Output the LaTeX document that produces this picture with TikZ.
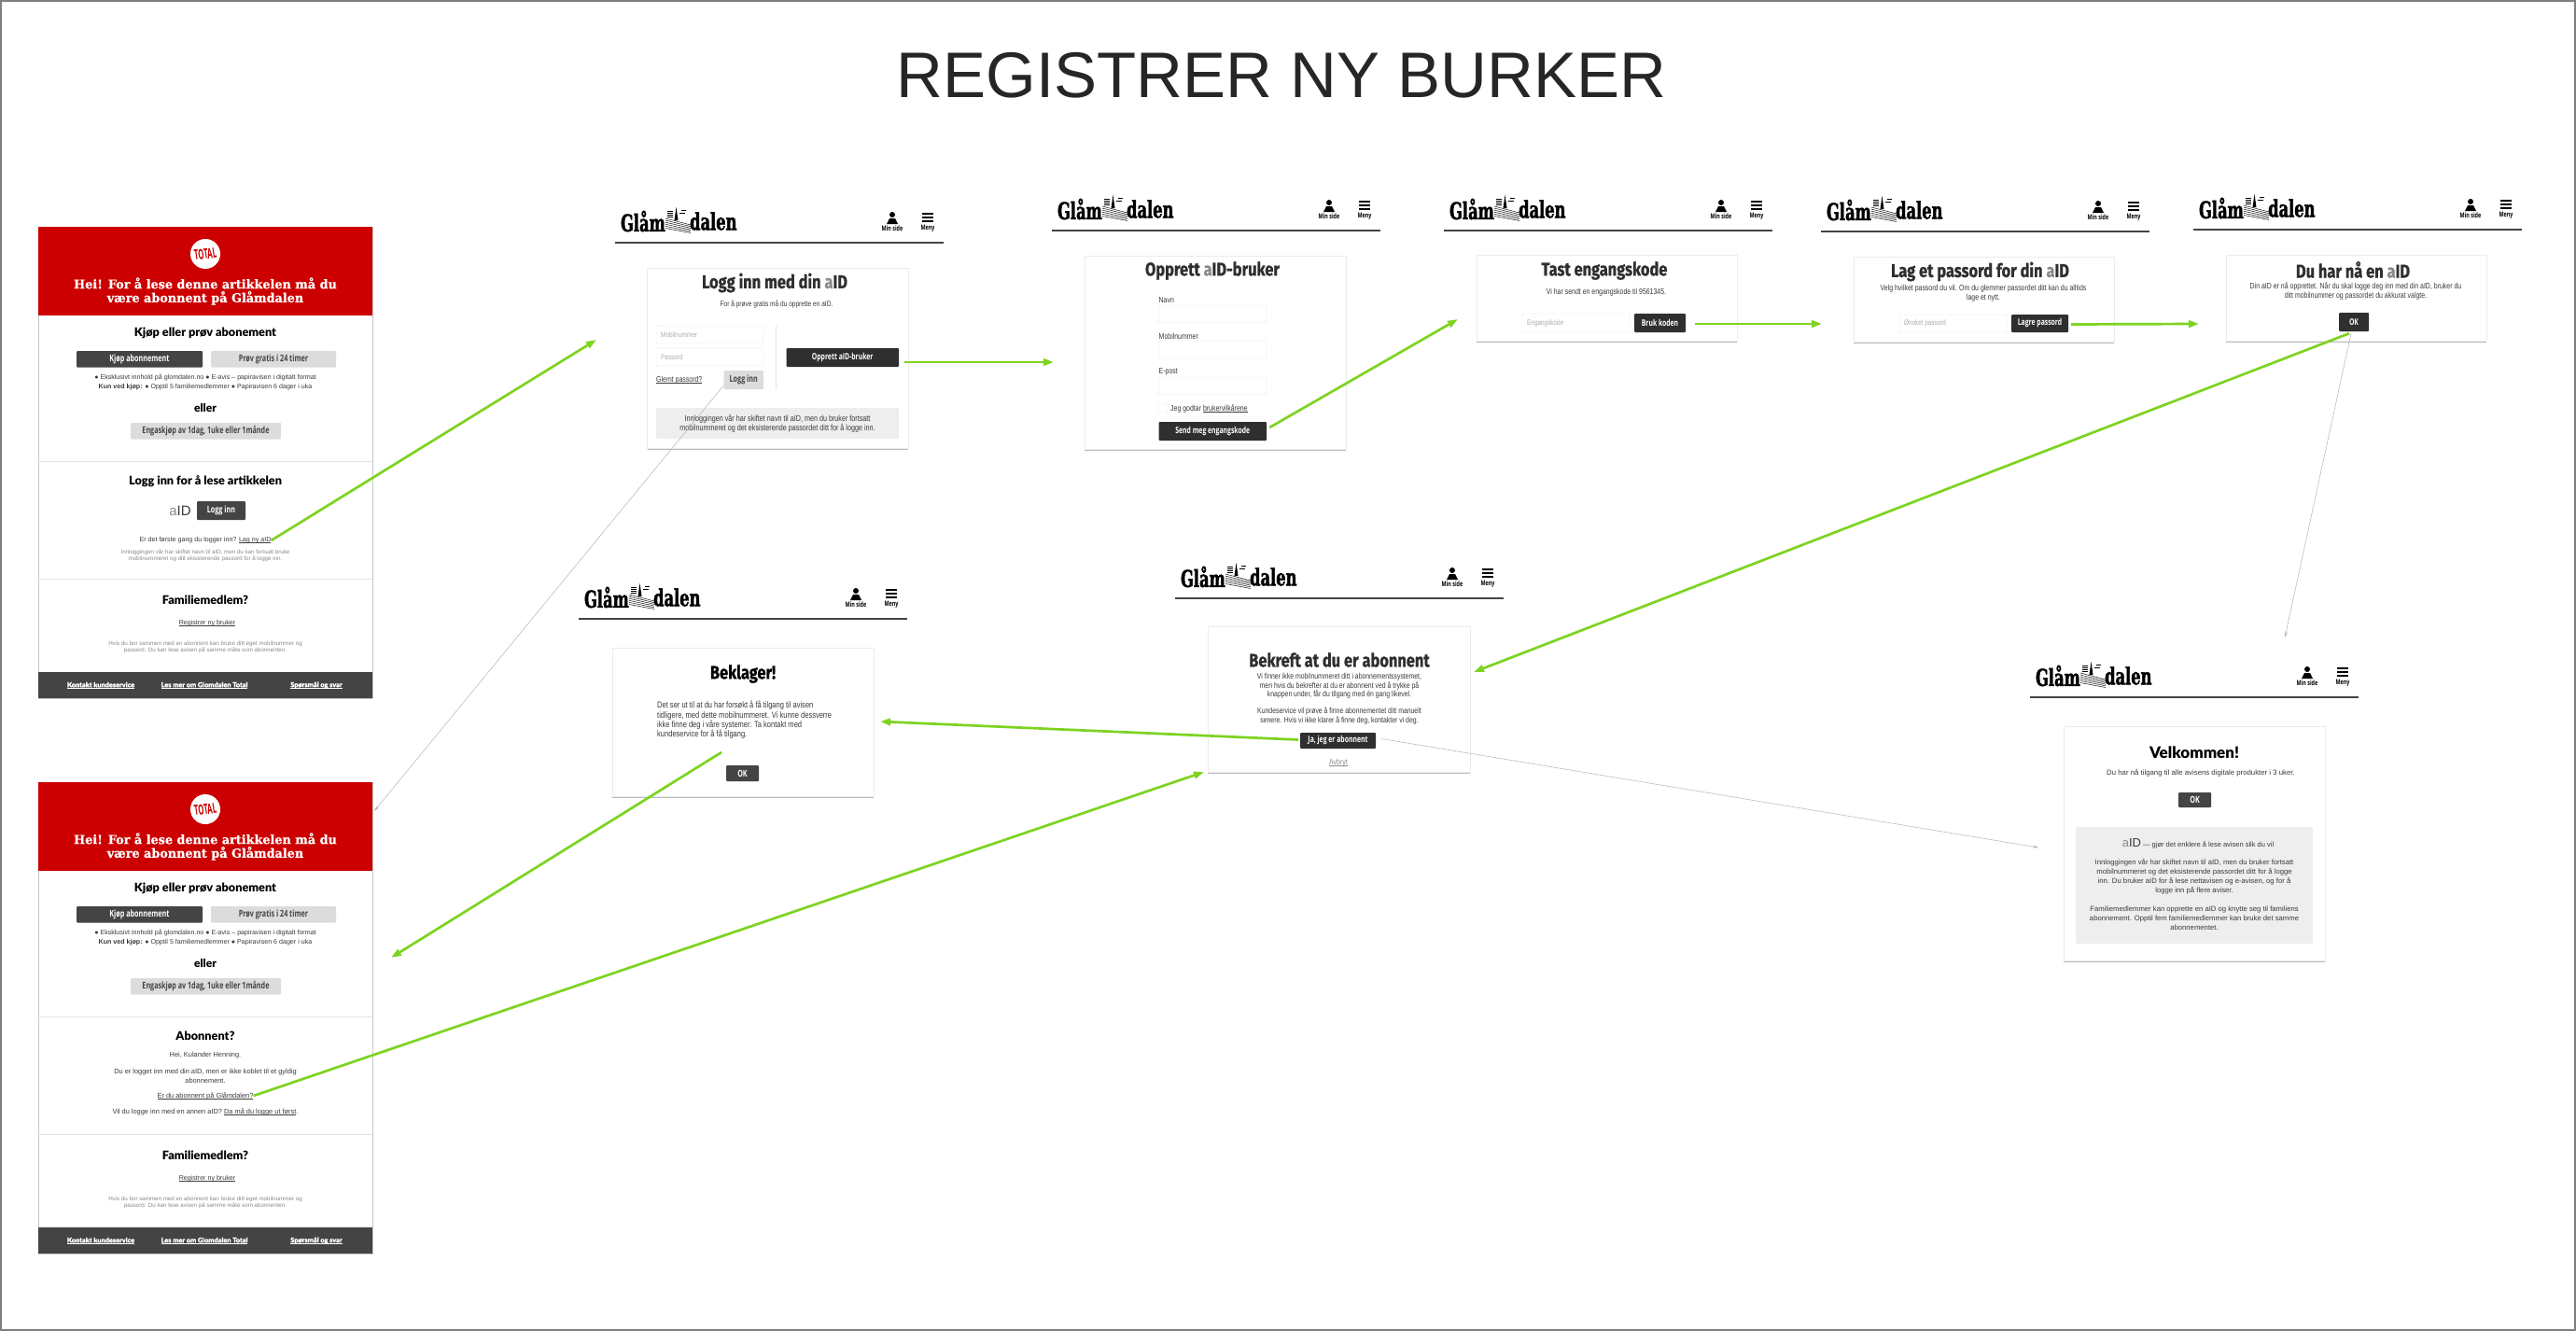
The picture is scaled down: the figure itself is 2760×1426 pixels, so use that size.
\documentclass[tikz,border=0pt]{standalone}
\usepackage{fontspec}
\usetikzlibrary{arrows.meta}
\setmainfont{Liberation Sans}
\newfontfamily\headfont{Lato Black}
\newfontfamily\footfont{Lato Black}[FakeBold=.5]
\newfontfamily\serifhead{DejaVu Serif Bold}[FakeStretch=.97,FakeBold=.6]
\newfontfamily\logofont{DejaVu Serif Bold}[FakeStretch=.65,FakeBold=1.6]
\newfontfamily\btnfont{Open Sans}[FakeStretch=.72]
\newfontfamily\cardhead{Fira Sans}[FakeStretch=.82,FakeBold=.8]
\newfontfamily\narrowfont{Liberation Sans}[FakeStretch=.8]
\definecolor{totalred}{HTML}{CC0000}
\definecolor{btndark}{HTML}{444444}
\definecolor{btnblack}{HTML}{2F2F2F}
\definecolor{btnlight}{HTML}{DCDCDC}
\definecolor{infogrey}{HTML}{EEEEEE}
\definecolor{txtgrey}{HTML}{8A8A8A}
\definecolor{txtdark}{HTML}{3A3A3A}
\definecolor{arrowgreen}{HTML}{7ED321}
\newcommand{\fs}[2]{\fontsize{#1}{#2}\selectfont}
\newcommand{\aidm}{{\color{txtgrey}a}ID}
\newcommand{\ulink}[1]{{\setbox0=\hbox{#1}\rlap{\rule[-.9pt]{\wd0}{.4pt}}\box0}}
\newcommand{\uibox}[7]{\node[#1, minimum width={(#5-#3)*1pt}, minimum height={(#6-#4)*1pt}] (#2) at ({(#3+#5)/2},{(#4+#6)/2}) {#7};}
\tikzset{
  panel/.style={draw=gray!45, fill=white},
  redband/.style={fill=totalred},
  card/.style={draw=gray!15, fill=white, preaction={fill=gray!55, transform canvas={yshift=-1.5pt}}},
  field/.style={draw=gray!22, fill=white, rounded corners=1pt, font=\narrowfont\fs{8}{9}, text=gray!65},
  darkbtn/.style={fill=btndark, rounded corners=1pt, text=white, font=\btnfont\bfseries\fs{10}{11}},
  blackbtn/.style={fill=btnblack, rounded corners=1pt, text=white, font=\btnfont\bfseries\fs{9.5}{11}},
  lightbtn/.style={fill=btnlight, rounded corners=1pt, text=btndark, font=\btnfont\bfseries\fs{10}{11}},
  infobox/.style={fill=infogrey, rounded corners=1pt},
  redhead/.style={text=white, font=\serifhead\fs{13.2}{14.6}, align=center},
  wallhead/.style={text=black, font=\headfont\fs{12.7}{15}},
  walltxt/.style={text=txtdark, font=\fs{7.1}{9.8}, align=center},
  wallsmall/.style={text=txtgrey, font=\fs{6.2}{7.2}, align=center},
  footlink/.style={text=white, font=\footfont\fs{7.3}{8}},
  cardtitle/.style={text=btnblack, font=\cardhead\bfseries\fs{20}{22}},
  cardtxt/.style={text=txtdark, font=\narrowfont\fs{8.7}{10}, align=center},
  sep/.style={draw=gray!22, line width=.7pt},
  hdrline/.style={draw=btndark, line width=1.3pt},
  hdrtxt/.style={text=black, font=\btnfont\bfseries\fs{7.5}{8}},
  logotxt/.style={text=black, font=\logofont\fs{25}{26}},
  go/.style={draw=arrowgreen, line width=2.7pt, -{Triangle[length=11pt,width=7.5pt]}},
  nogo/.style={draw=gray!60, line width=.5pt, -{Stealth[length=6pt,width=3pt]}},
}
\newcommand{\screenhdr}[3]{%
  \begin{scope}[shift={(#2,#3)}]
    \draw[hdrline] (0,0) -- (352,0);
    \node[logotxt, anchor=east] (#1gl) at (54,-23) {Glåm};
    \node[logotxt, anchor=west] (#1da) at (80,-23) {dalen};
    \fill (65.5,-38) -- (67.5,-24) -- (63.5,-24) -- cycle;
    \foreach \k in {0,...,3} \draw[line width=.45pt] (56,{-34+\k*2}) -- (62,{-34+\k*2});
    \draw[line width=.4pt] (69,-32) -- (75,-32) (71,-35) -- (76,-35);
    \foreach \k in {0,...,5} \draw[line width=.45pt] (54,{-26+\k*2.1}) -- (81,{-19+\k*1.7});
    \fill (297,-30) circle (3);
    \fill (291,-20) -- (294,-26) -- (300,-26) -- (303,-20) -- cycle;
    \node[hdrtxt] (#1mi) at (297,-15) {Min side};
    \foreach \k in {-32,-28,-24} \fill (329,\k) rectangle (341,{\k+2});
    \node[hdrtxt] (#1me) at (335,-15) {Meny};
  \end{scope}}
\newcommand{\walltop}[2]{%
  \begin{scope}[shift={(0,#2)}]
    \uibox{panel}{#1pan}{41}{0}{399}{505}{}
    \uibox{redband}{#1red}{41}{0}{399}{95}{}
    \node[circle, fill=white, minimum size=32pt] (#1ring) at (220,29) {};
    \node[rotate=8, xscale=.72, text=totalred, font=\btnfont\bfseries\fs{15}{15}] (#1tot) at (220,29) {TOTAL};
    \node[redhead] (#1hei) at (220,69) {Hei! For å lese denne artikkelen må du\\være abonnent på Glåmdalen};
    \node[wallhead] (#1kj) at (220,114) {Kjøp eller prøv abonement};
    \uibox{darkbtn}{#1buy}{82}{133}{217}{150.5}{Kjøp abonnement}
    \uibox{lightbtn}{#1try}{226}{133}{360}{150.5}{Prøv gratis i 24 timer}
    \node[walltxt] (#1bul) at (220,166) {● Eksklusivt innhold på glomdalen.no ● E-avis – papiravisen i digitalt format\\\textbf{Kun ved kjøp:} ● Opptil 5 familiemedlemmer ● Papiravisen 6 dager i uka};
    \node[wallhead, font=\headfont\fs{12}{14}] (#1el) at (220,194) {eller};
    \uibox{lightbtn}{#1eng}{140}{210}{301}{227.5}{Engaskjøp av 1dag, 1uke eller 1månde}
    \draw[sep] (41,251) -- (399,251);
  \end{scope}}
\newcommand{\wallfoot}[2]{%
  \begin{scope}[shift={(0,#2)}]
    \draw[sep] (41,0) -- (399,0);
    \node[wallhead] (#1fam) at (220,23) {Familiemedlem?};
    \node[walltxt] (#1reg) at (222,48) {\ulink{Registrer ny bruker}};
    \node[wallsmall] (#1hv) at (220,73.5) {Hvis du bor sammen med en abonnent kan bruke ditt eget mobilnummer og\\passord. Du kan lese avisen på samme måte som abonnenten.};
    \uibox{fill=btndark}{#1ft}{41}{100}{399}{128}{}
    \node[footlink] (#1f1) at (108,114) {\ulink{Kontakt kundeservice}};
    \node[footlink] (#1f2) at (219,114) {\ulink{Les mer om Glomdalen Total}};
    \node[footlink] (#1f3) at (339,114) {\ulink{Spørsmål og svar}};
  \end{scope}}
\begin{document}
\begin{tikzpicture}[x=1pt, y=-1pt, inner sep=0pt]
  \useasboundingbox (0,0) rectangle (2760,1426);
  \draw[gray, line width=2pt] (1,1) rectangle (2759,1425);
  \node[text=black!85, font=\fs{69}{72}] (title) at (1373,81) {REGISTRER NY BURKER};

  \walltop{wA}{243}
  \node[wallhead] (wAlog) at (220,516) {Logg inn for å lese artikkelen};
  \node[font=\fs{15}{16}, text=txtdark] (wAaid) at (193,547) {\aidm};
  \uibox{darkbtn}{wAbtn}{211}{537}{263}{557}{Logg inn}
  \node[walltxt] (wAlag) at (220,579) {Er det første gang du logger inn? \ulink{Lag ny aID}};
  \node[wallsmall] (wAinn) at (220,595.5) {Innloggingen vår har skiftet navn til aID, men du kan fortsatt bruke\\mobilnummeret og ditt eksisterende passord for å logge inn.};
  \wallfoot{wA}{620}

  \walltop{wB}{838}
  \node[wallhead] (wBabo) at (220,1110) {Abonnent?};
  \node[walltxt, font=\fs{7.4}{9.8}] (wBhei) at (220,1131) {Hei, Kulander Henning.};
  \node[walltxt, font=\fs{7.4}{9.8}] (wBdu) at (220,1152.5) {Du er logget inn med din aID, men er ikke koblet til et gyldig\\abonnement.};
  \node[walltxt, font=\fs{7.4}{9.8}] (wBer) at (220,1174) {\ulink{Er du abonnent på Glåmdalen?}};
  \node[walltxt, font=\fs{7.4}{9.8}] (wBvil) at (220,1191) {Vil du logge inn med en annen aID? \ulink{Da må du logge ut først}.};
  \wallfoot{wB}{1215}

  \foreach \hn/\hx/\hy in {hA/659/260, hB/1127/247, hC/1547/247, hD/1951/248, hE/2350/246, hF/620/663, hG/1259/641, hH/2175/747}
    {\screenhdr{\hn}{\hx}{\hy}}

  % logg inn
  \uibox{card}{cA}{693.5}{287}{973}{480}{}
  \node[cardtitle] (cAt) at (830,303) {Logg inn med din \aidm};
  \node[cardtxt, font=\narrowfont\fs{8.2}{10}] (cAs) at (832,326) {For å prøve gratis må du opprette en aID.};
  \uibox{field}{cAf1}{703}{349}{818}{368}{}
  \node[field, draw=none, fill=none, anchor=west] (cAp1) at (708,358.5) {Mobilnummer};
  \uibox{field}{cAf2}{703}{373}{818}{392}{}
  \node[field, draw=none, fill=none, anchor=west] (cAp2) at (708,382.5) {Passord};
  \node[cardtxt, anchor=west] (cAgl) at (703,407) {\ulink{Glemt passord?}};
  \uibox{lightbtn}{cAlog}{775.5}{397}{818}{417}{Logg inn}
  \draw[sep] (831,349) -- (831,417);
  \uibox{blackbtn}{cAopp}{842.5}{373}{963}{393}{Opprett aID-bruker}
  \uibox{infobox}{cAinf}{703}{437}{963}{470}{}
  \node[cardtxt, font=\narrowfont\fs{9}{9}] (cAit) at (833,453.5) {Innloggingen vår har skiftet navn til aID, men du bruker fortsatt\\mobilnummeret og det eksisterende passordet ditt for å logge inn.};

  % opprett
  \uibox{card}{cB}{1162}{274}{1442}{481}{}
  \node[cardtitle] (cBt) at (1299,290) {Opprett \aidm-bruker};
  \node[cardtxt, anchor=west] (cBn) at (1241.5,322) {Navn};
  \uibox{field}{cBf1}{1241.5}{327}{1357}{345}{}
  \node[cardtxt, anchor=west] (cBm) at (1241.5,360) {Mobilnummer};
  \uibox{field}{cBf2}{1241.5}{365}{1357}{384}{}
  \node[cardtxt, anchor=west] (cBe) at (1241.5,398) {E-post};
  \uibox{field}{cBf3}{1241.5}{403}{1357}{422}{}
  \uibox{field}{cBchk}{1241}{433}{1251}{442}{}
  \node[cardtxt, anchor=west] (cBj) at (1254,438) {Jeg godtar \ulink{brukervilkårene}};
  \uibox{blackbtn}{cBsend}{1241.5}{452}{1357}{472}{Send meg engangskode}

  % tast
  \uibox{card}{cC}{1582}{273}{1861}{365}{}
  \node[cardtitle] (cCt) at (1719,290) {Tast engangskode};
  \node[cardtxt] (cCs) at (1721,313) {Vi har sendt en engangskode til 9561345.};
  \uibox{field}{cCf}{1631}{336}{1746.5}{356}{}
  \node[field, draw=none, fill=none, anchor=west] (cCp) at (1636,346) {Engangskode};
  \uibox{blackbtn}{cCbtn}{1751}{336}{1806}{356}{Bruk koden}

  % passord
  \uibox{card}{cD}{1986}{275}{2265}{366}{}
  \node[cardtitle] (cDt) at (2121.5,291) {Lag et passord for din \aidm};
  \node[cardtxt] (cDs) at (2125,314) {Velg hvilket passord du vil. Om du glemmer passordet ditt kan du alltids\\lage et nytt.};
  \uibox{field}{cDf}{2035}{337}{2150}{356}{}
  \node[field, draw=none, fill=none, anchor=west] (cDp) at (2040,346.5) {Ønsket passord};
  \uibox{blackbtn}{cDbtn}{2155}{337}{2216}{356}{Lagre passord}

  % ferdig
  \uibox{card}{cE}{2385}{273}{2664}{365}{}
  \node[cardtitle] (cEt) at (2521,289) {Du har nå en \aidm};
  \node[cardtxt] (cEs) at (2524,312) {Din aID er nå opprettet. Når du skal logge deg inn med din aID, bruker du\\ditt mobilnummer og passordet du akkurat valgte.};
  \uibox{blackbtn}{cEok}{2506}{335}{2538}{355}{OK}

  % beklager
  \uibox{card}{cF}{656}{694}{936}{853}{}
  \node[cardtitle, text=black] (cFt) at (796,722) {Beklager!};
  \node[cardtxt, align=left, font=\narrowfont\fs{9.4}{10.3}, anchor=west] (cFs) at (704,771.5) {Det ser ut til at du har forsøkt å få tilgang til avisen\\tidligere, med dette mobilnummeret. Vi kunne dessverre\\ikke finne deg i våre systemer. Ta kontakt med\\kundeservice for å få tilgang.};
  \uibox{darkbtn}{cFok}{778}{820}{813}{837}{OK}

  % bekreft
  \uibox{card}{cG}{1294}{671}{1575}{827}{}
  \node[cardtitle] (cGt) at (1435,707) {Bekreft at du er abonnent};
  \node[cardtxt, font=\narrowfont\fs{8.6}{8.3}] (cGs) at (1435,748.5) {Vi finner ikke mobilnummeret ditt i abonnementssystemet,\\men hvis du bekrefter at du er abonnent ved å trykke på\\knappen under, får du tilgang med én gang likevel.\\[8pt]Kundeservice vil prøve å finne abonnementet ditt manuelt\\senere. Hvis vi ikke klarer å finne deg, kontakter vi deg.};
  \uibox{blackbtn}{cGja}{1393}{785}{1474}{802}{Ja, jeg er abonnent}
  \node[cardtxt, text=txtgrey] (cGav) at (1434,817) {\ulink{Avbryt}};

  % velkommen
  \uibox{card}{cH}{2211}{778}{2491}{1029}{}
  \node[wallhead, font=\headfont\fs{17}{19}] (cHt) at (2351,806) {Velkommen!};
  \node[walltxt, font=\fs{7.8}{10}] (cHs) at (2358,828) {Du har nå tilgang til alle avisens digitale produkter i 3 uker.};
  \uibox{darkbtn}{cHok}{2334}{849}{2369}{865}{OK}
  \uibox{infobox}{cHinf}{2224}{886}{2478}{1011}{}
  \node[walltxt, font=\fs{7.5}{10}] (cHa) at (2355,904) {{\fs{13}{14}\aidm} --- gjør det enklere å lese avisen slik du vil};
  \node[walltxt, font=\fs{7.7}{10}] (cHb) at (2351,958) {Innloggingen vår har skiftet navn til aID, men du bruker fortsatt\\mobilnummeret og det eksisterende passordet ditt for å logge\\inn. Du bruker aID for å lese nettavisen og e-avisen, og for å\\logge inn på flere aviser.\\[10pt]Familiemedlemmer kan opprette en aID og knytte seg til familiens\\abonnement. Opptil fem familiemedlemmer kan bruke det samme\\abonnementet.};

  \coordinate (toLogin) at (639,364);
  \coordinate (toOpprett) at (1129,388);
  \coordinate (toTast) at (1562,342);
  \coordinate (toPass) at (1952,347);
  \coordinate (toDone) at (2356,347);
  \coordinate (toBekreftR) at (1579,720);
  \coordinate (toBekreftL) at (1290,827);
  \coordinate (toBeklag) at (943,773);
  \coordinate (fromBeklag) at (773,806);
  \coordinate (toWallB) at (419,1026);
  \coordinate (toWelcome) at (2184,908);
  \coordinate (toWelcomeTop) at (2448,683);
  \coordinate (toWallTop) at (401,869);

  \draw[go] (wAlag.east) -- (toLogin);
  \draw[go] ([shift={(6,5)}]cAopp.east) -- (toOpprett);
  \draw[go] ([shift={(3,-4)}]cBsend.east) -- (toTast);
  \draw[go] ([shift={(10,1)}]cCbtn.east) -- (toPass);
  \draw[go] ([shift={(3,1)}]cDbtn.east) -- (toDone);
  \draw[go] ([shift={(-5,2)}]cEok.south) -- (toBekreftR);
  \draw[go] ([shift={(-2,-1)}]cGja.west) -- (toBeklag);
  \draw[go] (fromBeklag) -- (toWallB);
  \draw[go] (wBer.east) -- (toBekreftL);
  \draw[nogo] ([shift={(0,6)}]cAlog.west) -- (toWallTop);
  \draw[nogo] ([shift={(-3,2)}]cEok.south) -- (toWelcomeTop);
  \draw[nogo] ([shift={(6,-2)}]cGja.east) -- (toWelcome);
\end{tikzpicture}
\end{document}
